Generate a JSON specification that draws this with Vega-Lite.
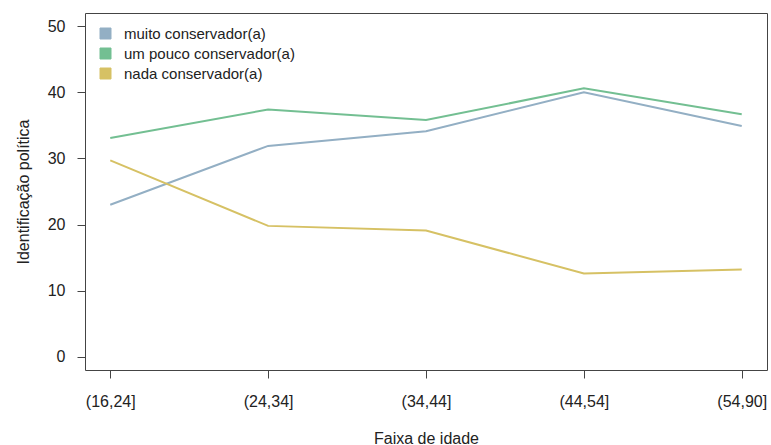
{
  "$schema": "https://vega.github.io/schema/vega-lite/v6.json",
  "width": 682,
  "height": 357,
  "autosize": {"type": "none"},
  "padding": {"left": 85, "top": 13, "right": 4, "bottom": 75},
  "background": "white",
  "config": {
    "font": "Liberation Sans",
    "view": {"stroke": "#444", "strokeWidth": 1},
    "legend": {"symbolStrokeColor": "#444", "symbolStrokeWidth": 1},
    "axis": {
      "grid": false,
      "domain": false,
      "tickColor": "#444",
      "tickSize": 8,
      "labelFontSize": 16,
      "labelColor": "#222",
      "titleFontSize": 16,
      "titleFontWeight": "normal",
      "titleColor": "#222",
      "labelFont": "Liberation Sans",
      "titleFont": "Liberation Sans"
    }
  },
  "data": {
    "values": [
      {"faixa": "(16,24]", "grupo": "muito conservador(a)", "valor": 23.0},
      {"faixa": "(24,34]", "grupo": "muito conservador(a)", "valor": 31.9},
      {"faixa": "(34,44]", "grupo": "muito conservador(a)", "valor": 34.1},
      {"faixa": "(44,54]", "grupo": "muito conservador(a)", "valor": 40.0},
      {"faixa": "(54,90]", "grupo": "muito conservador(a)", "valor": 34.9},
      {"faixa": "(16,24]", "grupo": "um pouco conservador(a)", "valor": 33.1},
      {"faixa": "(24,34]", "grupo": "um pouco conservador(a)", "valor": 37.4},
      {"faixa": "(34,44]", "grupo": "um pouco conservador(a)", "valor": 35.8},
      {"faixa": "(44,54]", "grupo": "um pouco conservador(a)", "valor": 40.6},
      {"faixa": "(54,90]", "grupo": "um pouco conservador(a)", "valor": 36.7},
      {"faixa": "(16,24]", "grupo": "nada conservador(a)", "valor": 29.7},
      {"faixa": "(24,34]", "grupo": "nada conservador(a)", "valor": 19.8},
      {"faixa": "(34,44]", "grupo": "nada conservador(a)", "valor": 19.1},
      {"faixa": "(44,54]", "grupo": "nada conservador(a)", "valor": 12.6},
      {"faixa": "(54,90]", "grupo": "nada conservador(a)", "valor": 13.2}
    ]
  },
  "mark": {"type": "line", "strokeWidth": 2},
  "encoding": {
    "x": {
      "field": "faixa",
      "type": "ordinal",
      "sort": null,
      "scale": {"type": "point", "padding": 0.16},
      "axis": {"labelAngle": 0, "labelPadding": 15, "title": "Faixa de idade", "titlePadding": 21}
    },
    "y": {
      "field": "valor",
      "type": "quantitative",
      "scale": {"domain": [-2, 52], "nice": false, "zero": false},
      "axis": {"values": [0, 10, 20, 30, 40, 50], "labelPadding": 12, "title": "Identificação política", "titlePadding": 16}
    },
    "color": {
      "field": "grupo",
      "type": "nominal",
      "scale": {
        "domain": ["muito conservador(a)", "um pouco conservador(a)", "nada conservador(a)"],
        "range": ["#93AFC4", "#73BF92", "#D6C164"]
      },
      "legend": {
        "title": null,
        "orient": "none",
        "legendX": 13,
        "legendY": 13,
        "padding": 0,
        "symbolType": "square",
        "symbolSize": 121,
        "symbolStrokeWidth": 1,
        "symbolStrokeColor": "#444",
        "labelFontSize": 15,
        "labelLimit": 400,
        "labelColor": "#222",
        "labelOffset": 11,
        "rowPadding": 4,
        "encode": {
          "symbols": {
            "enter": {
              "stroke": {"value": "#444"},
              "strokeWidth": {"value": 1}
            },
            "update": {
              "fill": {"scale": "color", "field": "value"},
              "fillOpacity": {"value": 1},
              "stroke": {"value": "#444"},
              "strokeWidth": {"value": 1},
              "strokeOpacity": {"value": 1}
            }
          }
        }
      }
    }
  }
}
